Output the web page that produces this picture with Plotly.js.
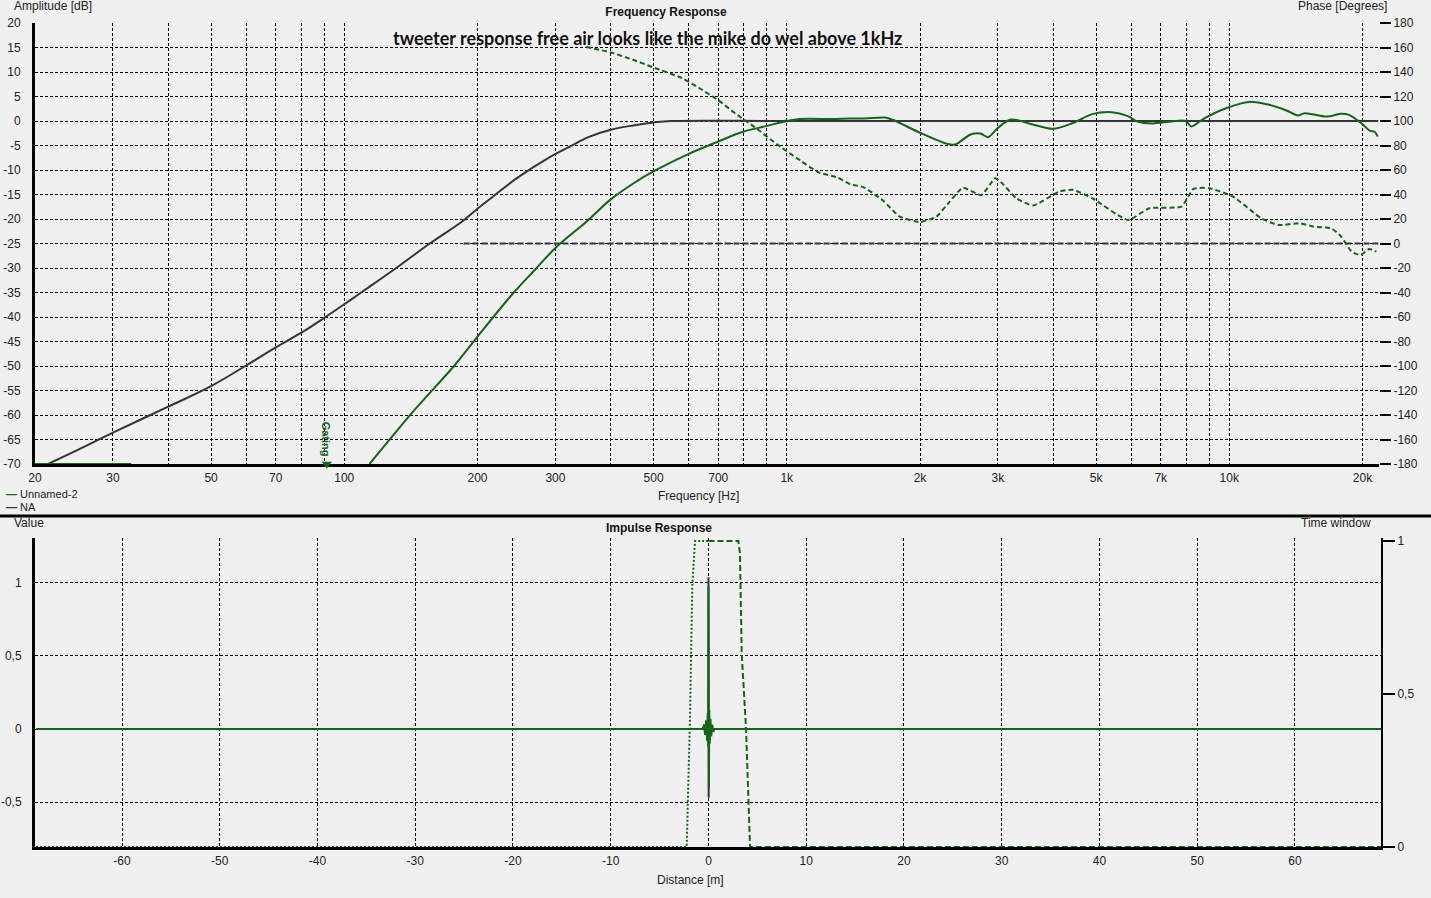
<!DOCTYPE html>
<html><head><meta charset="utf-8">
<script src="https://cdn.plot.ly/plotly-3.0.1.min.js"></script>
<style>html,body{margin:0;padding:0;background:#f0f0f0;}#chart{width:1431px;height:898px;}</style>
</head><body><div id="chart"></div>
<script>
// ---------- Frequency response data ----------
const freqTicks = [20,30,40,50,60,70,80,90,100,200,300,400,500,600,700,800,900,1000,2000,3000,4000,5000,6000,7000,8000,9000,10000,20000];
const freqTickText = ['20','30','','50','','70','','','100','200','300','','500','','700','','','1k','2k','3k','','5k','','7k','','','10k','20k'];
const ampTicks = [-70,-65,-60,-55,-50,-45,-40,-35,-30,-25,-20,-15,-10,-5,0,5,10,15,20];
const phaseTicks = [-180,-160,-140,-120,-100,-80,-60,-40,-20,0,20,40,60,80,100,120,140,160,180];

const freqNA = [21.4,25,30,40,50,60,70,80,90,100,110,131,156,186,200,217,245,292,324,356,400,450,500,550,1000,5000,21700];
const ampNA  = [-70,-67.1,-63.6,-58.3,-54.1,-49.9,-46.2,-43.2,-40.2,-37.4,-34.8,-30,-25.0,-20.3,-17.9,-15.4,-11.7,-7.3,-5.2,-3.3,-1.8,-0.9,-0.3,0,0,0,0];

const freqNAPhase = [186,21700];
const phaseNA = [0,0];

const freqGreen = [20,33,null,114,143,177,200,241,272,300,353,400,449,497,594,695,796,902,1000,1070,1270,1390,1500,1667,1740,2000,2312,2400,2594,2680,2750,2850,3000,3210,3560,3990,4430,4900,5430,5900,6200,6700,7420,7970,8200,8800,9900,11070,12300,13500,14300,14800,16600,17900,18600,19900,20800,21300,21650];
const ampGreen  = [-70,-70,null,-70,-59.3,-50,-44,-35.1,-30,-25.9,-20.5,-16.0,-12.8,-10.4,-6.9,-4.3,-2.2,-1.0,0,0.4,0.4,0.5,0.5,0.7,0.2,-2.4,-4.7,-4.8,-2.8,-2.5,-2.6,-3.3,-1.4,0.3,-0.6,-1.6,-0.4,1.4,1.8,1.0,-0.1,-0.5,-0.1,0,-1.1,0.6,2.7,3.9,3.3,2.1,1.1,1.6,0.9,1.5,1.3,-0.5,-2.0,-2.2,-3.2];

const freqPhase = [352,400,449,497,580,633,700,763,846,967,1070,1180,1300,1390,1490,1650,1800,2000,2180,2320,2500,2750,2960,3070,3300,3600,4130,4430,4900,5900,6600,7800,8300,9000,10200,11800,12900,14400,15500,17000,17900,18900,19800,20700,21500];
const phaseGreen = [160.4,156,150,144,135,127,117,106.5,95,79,68,58,54,48.4,46,35,22,17.5,22,33,45.5,39.5,53.3,49,37,31,42.4,43.8,37,19.2,28.8,30.2,44.6,45.2,38.3,20.6,15.1,16.5,13.8,12.4,5.6,-6.7,-9.4,-4.5,-6.7];

const gatingFreq = [91.3];
const gatingLevel = [-70];

// ---------- Impulse response data ----------
const distTicks = [-60,-50,-40,-30,-20,-10,0,10,20,30,40,50,60];
const valueTicks = [-0.5,0,0.5,1];
const windowTicks = [0,0.5,1];

const distNA = [-68.8,-0.02,0,0.02,0.04,68.8];
const valNA  = [0,0,1.04,-0.47,0,0];

const distImp = [-68.8,-0.6,-0.45,-0.35,-0.25,-0.15,-0.08,-0.03,0,0.04,0.08,0.13,0.2,0.28,0.38,0.5,0.6,68.8];
const valImp  = [0,0,0.03,-0.04,0.06,-0.08,0.11,-0.12,0.975,-0.40,0.13,-0.1,0.07,-0.05,0.03,-0.02,0,0];

const distWinL = [-68.8,-2.23,-1.89,-1.66,-1.38,0];
const winL     = [0,0,0.42,0.85,1,1];
const distWinR = [0,3.05,3.22,3.4,3.84,4.25,68.8];
const winR     = [1,1,0.96,0.63,0.39,0,0];

// ---------- styling ----------
const W = 1431, H = 898;
const px = v => v / W;
const py = v => 1 - v / H;
const lbl = v => String(v).replace('.', ',');
const GREEN = '#17631a';
const GRAY = '#353535';
const FONT = 'Liberation Sans, Arial, sans-serif';
const TF = {family:FONT, size:12, color:'#222'};
const GRID = {showgrid:true, gridcolor:'#000', gridwidth:1, griddash:'3px,2px'};

const traces = [
  {x:freqNA, y:ampNA, xaxis:'x', yaxis:'y', mode:'lines', line:{color:GRAY, width:2, shape:'spline', smoothing:1}, name:'NA', showlegend:false},
  {x:freqGreen, y:ampGreen, xaxis:'x', yaxis:'y', mode:'lines', line:{color:GREEN, width:2, shape:'spline', smoothing:0.9}, name:'Unnamed-2', showlegend:false, cliponaxis:false, connectgaps:false},
  {x:gatingFreq, y:gatingLevel, xaxis:'x', yaxis:'y', mode:'markers', marker:{symbol:'triangle-down', size:9, color:GREEN}, cliponaxis:false, showlegend:false, name:'Gating'},
  {x:freqNAPhase, y:phaseNA, xaxis:'x', yaxis:'y2', mode:'lines', line:{color:GRAY, width:2, dash:'6px,3px'}, showlegend:false, name:'NA phase'},
  {x:freqPhase, y:phaseGreen, xaxis:'x', yaxis:'y2', mode:'lines', line:{color:GREEN, width:2, dash:'5px,3px', shape:'spline', smoothing:0.5}, showlegend:false, name:'Unnamed-2 phase'},
  {x:distNA, y:valNA, xaxis:'x2', yaxis:'y3', mode:'lines', line:{color:GRAY, width:2}, showlegend:false, name:'NA'},
  {x:distImp, y:valImp, xaxis:'x2', yaxis:'y3', mode:'lines', line:{color:GREEN, width:2}, showlegend:false, name:'Unnamed-2'},
  {x:distWinL, y:winL, xaxis:'x2', yaxis:'y4', mode:'lines', line:{color:GREEN, width:2, dash:'2px,2px'}, showlegend:false, cliponaxis:false, name:'Window left'},
  {x:distWinR, y:winR, xaxis:'x2', yaxis:'y4', mode:'lines', line:{color:GREEN, width:2, dash:'6px,3px'}, showlegend:false, cliponaxis:false, name:'Window right'}
];

const ann = (text, x, y, xa, opts) => Object.assign({text, x:px(x), y:py(y), xref:'paper', yref:'paper', xanchor:xa, yanchor:'middle', showarrow:false, font:TF}, opts||{});

const layout = {
  width:W, height:H,
  paper_bgcolor:'#f0f0f0', plot_bgcolor:'#f0f0f0',
  margin:{l:0, r:0, t:0, b:0},
  separators:',.',
  showlegend:false,
  title:{text:'<b>Frequency Response</b>', x:px(666), y:py(12), xanchor:'center', yanchor:'middle', font:{family:FONT, size:12, color:'#111'}},
  xaxis:Object.assign({type:'log', domain:[px(35), px(1379)], range:[Math.log10(20), Math.log10(20)+1344/442.5], anchor:'y',
    tickmode:'array', tickvals:freqTicks, ticktext:freqTickText, ticks:'', tickfont:TF, ticklabelstandoff:1,
    showline:true, linewidth:3, linecolor:'#000', zeroline:false, layer:'below traces'}, GRID),
  yaxis:Object.assign({domain:[py(464), py(23)], range:[-70,20], anchor:'x', tickmode:'array', tickvals:ampTicks, ticktext:ampTicks.map(lbl), ticks:'', tickfont:TF, ticklabelstandoff:9,
    showline:true, linewidth:3, linecolor:'#000', zeroline:false, layer:'below traces'}, GRID),
  yaxis2:{overlaying:'y', side:'right', anchor:'x', range:[-180,180], tickmode:'array', tickvals:phaseTicks, ticktext:phaseTicks.map(lbl), showgrid:false, zeroline:false, showline:false,
    ticks:'outside', ticklen:11, tickwidth:2, tickcolor:'#000', tickfont:TF},
  xaxis2:Object.assign({domain:[px(35), px(1381)], range:[-68.9, 68.8], anchor:'y3', tickmode:'array', tickvals:distTicks, ticktext:distTicks.map(lbl), ticks:'', tickfont:TF, ticklabelstandoff:1,
    showline:true, linewidth:3, linecolor:'#000', zeroline:false, layer:'below traces'}, GRID),
  yaxis3:Object.assign({domain:[py(847), py(538)], range:[-0.808, 1.308], anchor:'x2', tickmode:'array', tickvals:valueTicks, ticktext:valueTicks.map(lbl), ticks:'', tickfont:TF, ticklabelstandoff:8,
    showline:true, linewidth:3, linecolor:'#000', zeroline:false, layer:'below traces'}, GRID),
  yaxis4:{overlaying:'y3', side:'right', anchor:'x2', range:[0, 1.0098], tickmode:'array', tickvals:windowTicks, ticktext:windowTicks.map(lbl), showgrid:false, zeroline:false,
    showline:true, linewidth:2, linecolor:'#000', ticks:'outside', ticklen:12, tickwidth:2, tickcolor:'#000', tickfont:TF},
  shapes:[
    {type:'line', xref:'paper', yref:'paper', x0:0, x1:1, y0:py(516), y1:py(516), line:{color:'#000', width:3}}
  ],
  annotations:[
    ann('Amplitude [dB]', 12, 6, 'left'),
    ann('Phase [Degrees]', 1389, 6, 'right'),
    ann('<b>tweeter response free air looks like the mike do wel above 1kHz</b>', 391, 38, 'left', {font:{family:'Lato, sans-serif', size:18, color:'#111'}}),
    ann('Frequency [Hz]', 698, 496, 'center'),
    ann('<span style="color:#17631a"><b>—</b></span> Unnamed-2', 4, 494, 'left', {font:{family:FONT, size:11, color:'#222'}}),
    ann('<span style="color:#353535"><b>—</b></span> NA', 4, 507, 'left', {font:{family:FONT, size:11, color:'#222'}}),
    ann('Value', 12, 523, 'left'),
    ann('<b>Impulse Response</b>', 659, 528, 'center', {font:{family:FONT, size:12, color:'#111'}}),
    ann('Time window', 1373, 523, 'right'),
    ann('Distance [m]', 690, 880, 'center'),
    {text:'<b>Gating</b>', x:Math.log10(gatingFreq[0]), y:gatingLevel[0], xref:'x', yref:'y', xanchor:'center', yanchor:'bottom', yshift:5, textangle:90, showarrow:false,
     font:{family:FONT, size:11, color:GREEN}}
  ]
};

Plotly.newPlot('chart', traces, layout, {displayModeBar:false, staticPlot:true});
</script></body></html>
